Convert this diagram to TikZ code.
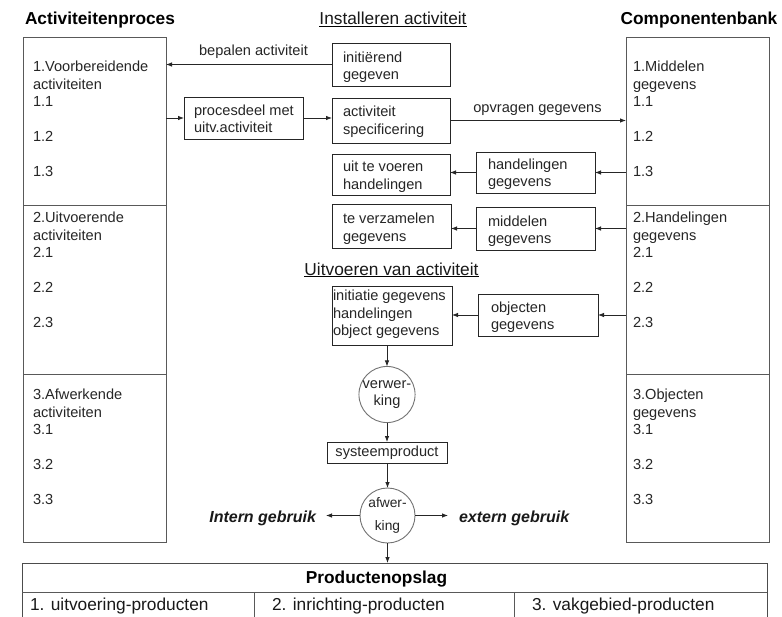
\documentclass[tikz,border=0pt]{standalone}
\usepackage{fontspec}
\setmainfont{Liberation Sans}
\usetikzlibrary{arrows.meta}

\begin{document}
\begin{tikzpicture}[x=1pt,y=-1pt,
  every node/.style={inner sep=0pt, outer sep=0pt},
  txt/.style={font=\fontsize{14.6}{17.5}\selectfont, text=black!85, align=left},
  bigtxt/.style={font=\fontsize{17.3}{20}\selectfont, text=black!90},
  title/.style={font=\fontsize{17.3}{20}\selectfont\bfseries, text=black},
  usage/.style={font=\fontsize{16}{18}\selectfont\bfseries\itshape, text=black!90},
  column/.style={draw=black!65, line width=0.9pt, minimum width=143pt, minimum height=505pt, anchor=north west},
  box/.style={draw=black!85, line width=0.9pt, anchor=north west},
  proc/.style={circle, draw=black!55, line width=0.9pt, align=center, text=black!85},
  flow/.style={draw=black!85, line width=0.8pt, -{Latex[length=6pt,width=4.5pt]}},
  rule/.style={draw=black!65, line width=0.9pt},
]
\fill[white] (0,0) rectangle (782,616);
\useasboundingbox (0,0) rectangle (782,616);

% headings
\node[title, anchor=base] (acttitle) at (100,24.5) {Activiteitenproces};
\node[title, anchor=base] (comptitle) at (699,24.5) {Componentenbank};
\node[bigtxt, anchor=base] (inst) at (393,24.5) {Installeren activiteit};
\draw[line width=1pt] ([yshift=-1.8pt]inst.south west) -- ([yshift=-1.8pt]inst.south east);
\node[bigtxt, anchor=base] (uitv) at (391.5,275) {Uitvoeren van activiteit};
\draw[line width=1pt] ([yshift=-1.8pt]uitv.south west) -- ([yshift=-1.8pt]uitv.south east);

% side columns
\node[column] (lcol) at (23,37) {};
\node[column] (rcol) at (626,37) {};
\coordinate (s1) at (0,205);
\coordinate (s2) at (0,374);
\foreach \c in {lcol,rcol} {
  \draw[rule] (\c.west |- s1) -- (\c.east |- s1);
  \draw[rule] (\c.west |- s2) -- (\c.east |- s2);
}
\node[txt, anchor=north west] (l1) at (33,61.4) {1.Voorbereidende\\activiteiten\\1.1\\[17.5pt]1.2\\[17.5pt]1.3};
\node[txt, anchor=north west] (l2) at (33,212.4) {2.Uitvoerende\\activiteiten\\2.1\\[17.5pt]2.2\\[17.5pt]2.3};
\node[txt, anchor=north west] (l3) at (33,389.4) {3.Afwerkende\\activiteiten\\3.1\\[17.5pt]3.2\\[17.5pt]3.3};
\node[txt, anchor=north west] (r1) at (633,61.4) {1.Middelen\\gegevens\\1.1\\[17.5pt]1.2\\[17.5pt]1.3};
\node[txt, anchor=north west] (r2) at (633,212.4) {2.Handelingen\\gegevens\\2.1\\[17.5pt]2.2\\[17.5pt]2.3};
\node[txt, anchor=north west] (r3) at (633,389.4) {3.Objecten\\gegevens\\3.1\\[17.5pt]3.2\\[17.5pt]3.3};

% boxes of the installation step
\node[box, minimum width=118pt, minimum height=43pt] (init) at (332,43) {};
\node[box, minimum width=118pt, minimum height=45pt] (spec) at (332,98) {};
\node[box, minimum width=119pt, minimum height=42pt] (pdeel) at (184,97) {};
\node[box, minimum width=118pt, minimum height=41pt] (uit) at (332,154) {};
\node[box, minimum width=119pt, minimum height=41pt] (hand) at (476,152) {};
\node[box, minimum width=119pt, minimum height=44pt] (verz) at (332,204) {};
\node[box, minimum width=119pt, minimum height=43pt] (mid) at (476,207) {};
\node[box, minimum width=120pt, minimum height=59pt] (init2) at (332,286) {};
\node[box, minimum width=120pt, minimum height=42pt] (obj) at (478,294) {};

\node[txt, anchor=west] (init-t) at (343,67) {initiërend\\gegeven};
\node[txt, anchor=west] (spec-t) at (343,121.5) {activiteit\\specificering};
\node[txt, anchor=west] (pdeel-t) at (194,119) {procesdeel met\\uitv.activiteit};
\node[txt, anchor=west] (uit-t) at (343,176.5) {uit te voeren\\handelingen};
\node[txt, anchor=west] (hand-t) at (488,174) {handelingen\\gegevens};
\node[txt, anchor=west] (verz-t) at (343,228.5) {te verzamelen\\gegevens};
\node[txt, anchor=west] (mid-t) at (488,231) {middelen\\gegevens};
\node[txt, anchor=west] (init2-t) at (333,314.5) {initiatie gegevens\\handelingen\\object gegevens};
\node[txt, anchor=west] (obj-t) at (491,317) {objecten\\gegevens};

% processing chain
\node[proc, minimum size=56pt, font=\fontsize{14.6}{17}\selectfont] (verw) at (387,394.5) {verwer-\\king};
\node[box, minimum width=120pt, minimum height=21pt, txt] (syst) at (327,442) {systeemproduct};
\node[proc, minimum size=55pt, font=\fontsize{13.8}{23}\selectfont] (afw) at (387.5,515.5) {afwer-\\king};
\node[usage, anchor=east, inner xsep=10pt] (intern) at (326,518.5) {Intern gebruik};
\node[usage, anchor=west, inner xsep=11pt] (extern) at (448,518.5) {extern gebruik};

% connector labels
\node[txt, anchor=base] (bepalen) at (253.5,55) {bepalen activiteit};
\node[txt, anchor=base] (opvragen) at (537.5,112) {opvragen gegevens};

% connectors
\draw[flow] (init.west) -- (init.west -| lcol.east);
\draw[flow] (lcol.east |- pdeel.west) -- (pdeel.west);
\draw[flow] (pdeel.east) -- (pdeel.east -| spec.west);
\draw[flow] (spec.east) -- (spec.east -| rcol.west);
\draw[flow] (rcol.west |- hand.east) -- (hand.east);
\draw[flow] (hand.west) -- (hand.west -| uit.east);
\draw[flow] (rcol.west |- mid.east) -- (mid.east);
\draw[flow] (mid.west) -- (mid.west -| verz.east);
\draw[flow] (rcol.west |- obj.east) -- (obj.east);
\draw[flow] (obj.west) -- (obj.west -| init2.east);
\draw[flow] (verw.north |- init2.south) -- (verw.north);
\draw[flow] (verw.south) -- (verw.south |- syst.north);
\draw[flow] (afw.north |- syst.south) -- (afw.north);
\draw[flow] (afw.west) -- (afw.west -| intern.east);
\draw[flow] (afw.east) -- (afw.east -| extern.west);

% product store
\node[draw=black!70, line width=0.9pt, minimum width=745pt, minimum height=62pt, anchor=north west] (store) at (22,563) {};
\draw[flow] (afw.south) -- (afw.south |- store.north);
\coordinate (h1) at (0,592);
\coordinate (c1) at (254,592);
\coordinate (c2) at (514,592);
\draw[rule] (store.west |- h1) -- (store.east |- h1);
\draw[rule] (c1) -- (c1 |- store.south);
\draw[rule] (c2) -- (c2 |- store.south);
\node[title, anchor=base] (storetitle) at (376.5,583.5) {Productenopslag};
\node[bigtxt, anchor=base west] (p1) at (30,610) {1. uitvoering-producten};
\node[bigtxt, anchor=base west] (p2) at (272,610) {2. inrichting-producten};
\node[bigtxt, anchor=base west] (p3) at (532,610) {3. vakgebied-producten};
\end{tikzpicture}
\end{document}
